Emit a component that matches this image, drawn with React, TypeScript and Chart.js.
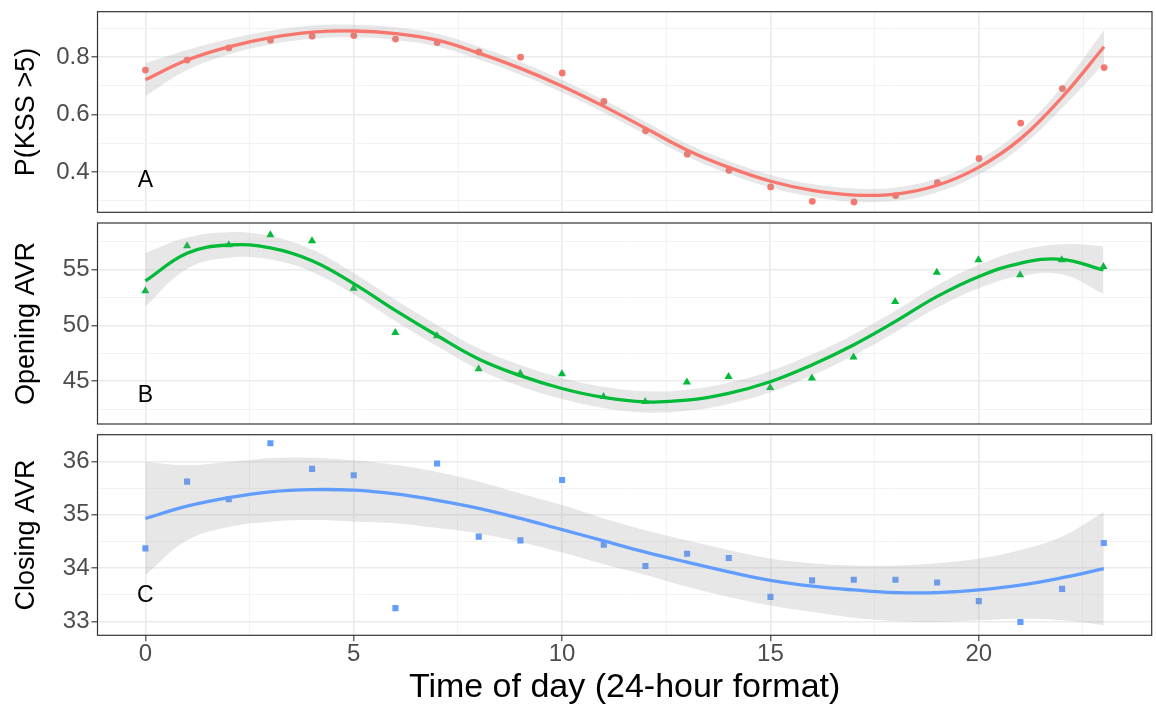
import React, { useEffect, useRef } from 'react';
import { Chart, registerables } from 'chart.js';

Chart.register(...registerables);

// ---------------- data ----------------
const hours = [0, 1, 2, 3, 4, 5, 6, 7, 8, 9, 10, 11, 12, 13, 14, 15, 16, 17, 18, 19, 20, 21, 22, 23];

// Panel A: P(KSS > 5)
const kssPoints = [0.754, 0.789, 0.831, 0.858, 0.872, 0.874, 0.862, 0.85, 0.817, 0.799, 0.744, 0.645, 0.543, 0.462, 0.406, 0.348, 0.298, 0.296, 0.318, 0.363, 0.447, 0.57, 0.69, 0.763];
const kssFit = [0.721, 0.789, 0.835, 0.867, 0.886, 0.89, 0.881, 0.858, 0.813, 0.76, 0.698, 0.628, 0.552, 0.476, 0.416, 0.368, 0.336, 0.32, 0.323, 0.354, 0.417, 0.516, 0.661, 0.835];
const kssLow = [0.664, 0.754, 0.808, 0.843, 0.863, 0.868, 0.859, 0.836, 0.791, 0.738, 0.676, 0.606, 0.53, 0.454, 0.394, 0.346, 0.314, 0.297, 0.3, 0.33, 0.391, 0.486, 0.623, 0.777];
const kssHigh = [0.778, 0.824, 0.862, 0.891, 0.909, 0.912, 0.903, 0.88, 0.835, 0.782, 0.72, 0.65, 0.574, 0.498, 0.438, 0.39, 0.358, 0.343, 0.346, 0.378, 0.443, 0.546, 0.699, 0.893];

// Panel B: Opening AVR
const openPoints = [53.09, 57.12, 57.21, 58.11, 57.57, 53.33, 49.35, 49.06, 46.1, 45.71, 45.65, 43.62, 43.17, 44.91, 45.41, 44.43, 45.27, 47.15, 52.13, 54.76, 55.87, 54.52, 55.87, 55.27];
const openFit = [53.99, 56.47, 57.21, 56.95, 55.8, 53.75, 51.35, 49.1, 47.0, 45.5, 44.35, 43.55, 43.15, 43.3, 43.92, 44.96, 46.46, 48.25, 50.34, 52.58, 54.37, 55.57, 55.93, 54.97];
const openLow = [51.7, 55.07, 56.06, 55.9, 54.8, 52.8, 50.4, 48.15, 46.05, 44.55, 43.4, 42.6, 42.2, 42.35, 42.97, 44.01, 45.51, 47.3, 49.39, 51.58, 53.32, 54.42, 54.58, 52.82];
const openHigh = [56.5, 57.87, 58.36, 58.0, 56.8, 54.7, 52.3, 50.05, 47.95, 46.45, 45.3, 44.5, 44.1, 44.25, 44.87, 45.91, 47.41, 49.2, 51.29, 53.58, 55.42, 56.72, 57.28, 57.12];

// Panel C: Closing AVR
const closePoints = [34.37, 35.62, 35.29, 36.34, 35.86, 35.74, 33.25, 35.96, 34.59, 34.52, 35.65, 34.44, 34.04, 34.27, 34.19, 33.46, 33.77, 33.78, 33.78, 33.73, 33.38, 32.99, 33.61, 34.47];
const closeFit = [34.93, 35.16, 35.32, 35.43, 35.47, 35.46, 35.39, 35.27, 35.12, 34.93, 34.72, 34.51, 34.3, 34.11, 33.93, 33.77, 33.66, 33.59, 33.54, 33.54, 33.59, 33.68, 33.82, 33.99];
const closeLow = [33.87, 34.52, 34.77, 34.87, 34.9, 34.87, 34.84, 34.75, 34.65, 34.49, 34.29, 34.07, 33.87, 33.65, 33.46, 33.3, 33.18, 33.07, 33.01, 32.99, 33.02, 33.05, 33.02, 32.93];
const closeHigh = [35.99, 35.93, 35.99, 36.06, 36.07, 36.02, 35.93, 35.8, 35.62, 35.4, 35.18, 34.93, 34.71, 34.52, 34.34, 34.18, 34.09, 34.05, 34.05, 34.09, 34.18, 34.34, 34.59, 35.05];

// ticks
const xMajorTicks = [0, 5, 10, 15, 20];
const xMinorTicks = [2.5, 7.5, 12.5, 17.5, 22.5];
const kssMajorTicks = [0.4, 0.6, 0.8];
const kssMinorTicks = [0.3, 0.5, 0.7, 0.9];
const openMajorTicks = [45, 50, 55];
const openMinorTicks = [42.5, 47.5, 52.5, 57.5];
const closeMajorTicks = [33, 34, 35, 36];
const closeMinorTicks = [33.5, 34.5, 35.5];

const xTitle = 'Time of day (24-hour format)';
const panelTitles = ['P(KSS >5)', 'Opening AVR', 'Closing AVR'];
const panelLetters = ['A', 'B', 'C'];
const panelLetterY = [0.369, 43.75, 33.49];

// ---------------- styling / layout ----------------
const W = 1156;
const H = 707;
const FONT = "'Liberation Sans', Arial, Helvetica, sans-serif";
const X_MIN = -1.15;
const X_MAX = 24.15;
const BAND = 'rgba(153,153,153,0.24)';
const GRID_MAJOR = '#ebebeb';
const GRID_MINOR = '#f2f2f2';
const AXIS_LEFT = 97.5;

type PanelSpec = {
  top: number;
  bottom: number;
  yMin: number;
  yMax: number;
  yMajor: number[];
  yMinor: number[];
  fmt: (v: number) => string;
  color: string;
  shape: string;
  radius: number;
  points: number[];
  fit: number[];
  low: number[];
  high: number[];
  title: string;
  letter: string;
  letterY: number;
  showX: boolean;
};

const panels: PanelSpec[] = [
  {
    top: 11.7, bottom: 212.3, yMin: 0.26, yMax: 0.957,
    yMajor: kssMajorTicks, yMinor: kssMinorTicks, fmt: (v) => v.toFixed(1),
    color: '#F8766D', shape: 'circle', radius: 3.4,
    points: kssPoints, fit: kssFit, low: kssLow, high: kssHigh,
    title: panelTitles[0], letter: panelLetters[0], letterY: panelLetterY[0], showX: false,
  },
  {
    top: 223, bottom: 424, yMin: 41.17, yMax: 59.18,
    yMajor: openMajorTicks, yMinor: openMinorTicks, fmt: (v) => String(v),
    color: '#00BA38', shape: 'triangle', radius: 4.7,
    points: openPoints, fit: openFit, low: openLow, high: openHigh,
    title: panelTitles[1], letter: panelLetters[1], letterY: panelLetterY[1], showX: false,
  },
  {
    top: 434.7, bottom: 635.3, yMin: 32.74, yMax: 36.5,
    yMajor: closeMajorTicks, yMinor: closeMinorTicks, fmt: (v) => String(v),
    color: '#619CFF', shape: 'rect', radius: 4.3,
    points: closePoints, fit: closeFit, low: closeLow, high: closeHigh,
    title: panelTitles[2], letter: panelLetters[2], letterY: panelLetterY[2], showX: true,
  },
];

const isIn = (list: number[], v: number) => list.some((t) => Math.abs(t - v) < 1e-9);

function buildConfig(p: PanelSpec): any {
  const pts = (ys: number[]) => hours.map((h, i) => ({ x: h, y: ys[i] }));
  const xMaj = (c: any) => !!c.tick && isIn(xMajorTicks, c.tick.value);
  const yMaj = (c: any) => !!c.tick && isIn(p.yMajor, c.tick.value);
  const xHeight = p.showX ? H - p.bottom : 0;

  const frame = {
    id: 'frame' + p.letter,
    afterDraw(chart: any) {
      const { ctx, chartArea: a, scales } = chart;
      ctx.save();
      ctx.font = `23px ${FONT}`;
      ctx.fillStyle = '#000';
      ctx.textAlign = 'center';
      ctx.textBaseline = 'middle';
      ctx.fillText(p.letter, scales.x.getPixelForValue(0), scales.y.getPixelForValue(p.letterY));
      ctx.strokeStyle = '#333333';
      ctx.lineWidth = 1.2;
      ctx.strokeRect(a.left, a.top, a.right - a.left, a.bottom - a.top);
      ctx.restore();
    },
  };

  return {
    type: 'line',
    data: {
      datasets: [
        { data: pts(p.high), fill: '+1', backgroundColor: BAND, borderColor: 'rgba(0,0,0,0)', borderWidth: 0, pointRadius: 0, tension: 0.4, order: 2 },
        { data: pts(p.low), fill: false, borderColor: 'rgba(0,0,0,0)', borderWidth: 0, pointRadius: 0, tension: 0.4, order: 3 },
        { data: pts(p.fit), fill: false, borderColor: p.color, borderWidth: 3.3, pointRadius: 0, tension: 0.4, order: 0 },
        { data: pts(p.points), showLine: false, pointStyle: p.shape, pointRadius: p.radius, pointBackgroundColor: p.color, pointBorderWidth: 0, borderColor: p.color, order: 4 },
      ],
    },
    options: {
      animation: false,
      responsive: false,
      devicePixelRatio: 1,
      events: [],
      layout: { padding: { left: 0, right: 1, top: p.top, bottom: p.showX ? 0 : H - p.bottom } },
      plugins: { legend: { display: false }, tooltip: { enabled: false } },
      scales: {
        x: {
          type: 'linear',
          min: X_MIN,
          max: X_MAX,
          afterBuildTicks: (s: any) => {
            s.ticks = [...xMajorTicks, ...xMinorTicks].sort((a, b) => a - b).map((v) => ({ value: v }));
          },
          afterFit: (s: any) => {
            s.height = xHeight;
            s.paddingLeft = 0;
            s.paddingRight = 0;
          },
          border: { display: false },
          grid: {
            color: (c: any) => (xMaj(c) ? GRID_MAJOR : GRID_MINOR),
            lineWidth: (c: any) => (xMaj(c) ? 1.6 : 0.9),
            drawTicks: p.showX,
            tickLength: 6,
            tickWidth: 1.1,
            tickColor: (c: any) => (xMaj(c) ? '#333333' : 'rgba(0,0,0,0)'),
          },
          ticks: {
            display: p.showX,
            autoSkip: false,
            maxRotation: 0,
            padding: -1,
            color: '#4d4d4d',
            font: { family: FONT, size: 24 },
            callback: (v: any) => (isIn(xMajorTicks, v) ? String(v) : ''),
          },
          title: {
            display: p.showX,
            text: xTitle,
            color: '#000',
            font: { family: FONT, size: 34 },
            padding: { top: 0, bottom: -1 },
          },
        },
        y: {
          type: 'linear',
          min: p.yMin,
          max: p.yMax,
          afterBuildTicks: (s: any) => {
            s.ticks = [...p.yMajor, ...p.yMinor].sort((a, b) => a - b).map((v) => ({ value: v }));
          },
          afterFit: (s: any) => {
            s.width = AXIS_LEFT;
            s.paddingTop = 0;
            s.paddingBottom = 0;
          },
          border: { display: false },
          grid: {
            color: (c: any) => (yMaj(c) ? GRID_MAJOR : GRID_MINOR),
            lineWidth: (c: any) => (yMaj(c) ? 1.6 : 0.9),
            drawTicks: true,
            tickLength: 6,
            tickWidth: 1.1,
            tickColor: (c: any) => (yMaj(c) ? '#333333' : 'rgba(0,0,0,0)'),
          },
          ticks: {
            autoSkip: false,
            padding: 2,
            color: '#4d4d4d',
            font: { family: FONT, size: 24 },
            callback: (v: any) => (isIn(p.yMajor, v) ? p.fmt(v) : ''),
          },
          title: {
            display: true,
            text: p.title,
            color: '#000',
            font: { family: FONT, size: 27 },
            padding: { top: 10, bottom: 0 },
          },
        },
      },
    },
    plugins: [frame],
  };
}

function Panel({ spec }: { spec: PanelSpec }) {
  const ref = useRef<HTMLCanvasElement | null>(null);
  useEffect(() => {
    if (!ref.current) return;
    const chart = new Chart(ref.current, buildConfig(spec));
    return () => chart.destroy();
  }, [spec]);
  return (
    <canvas
      ref={ref}
      width={W}
      height={H}
      style={{ position: 'absolute', left: 0, top: 0, width: W, height: H }}
    />
  );
}

export default function App() {
  return (
    <div style={{ position: 'fixed', left: 0, top: 0, width: W, height: H, background: '#fff', overflow: 'hidden' }}>
      {panels.map((p) => (
        <Panel key={p.letter} spec={p} />
      ))}
    </div>
  );
}
